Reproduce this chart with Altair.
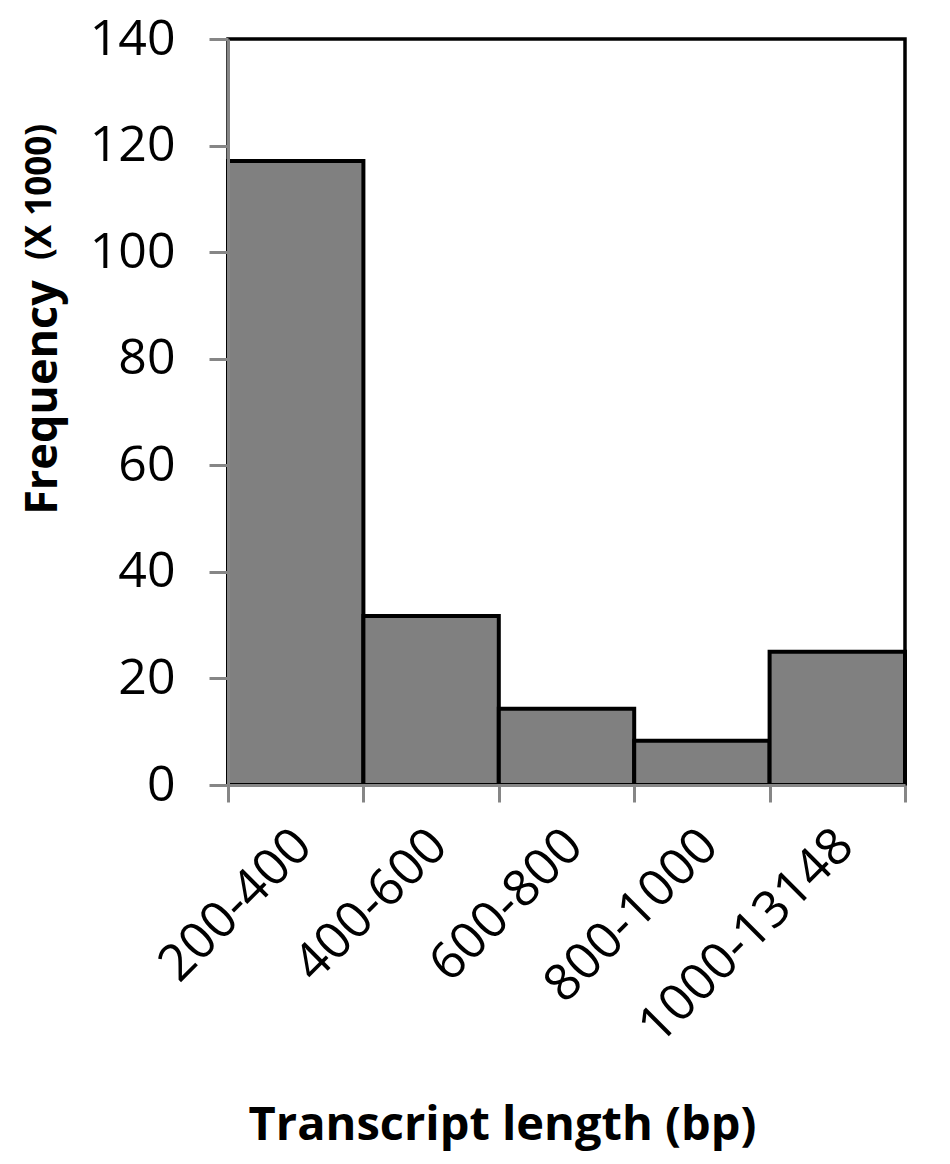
import altair as alt
import pandas as pd

categories = ["200-400", "400-600", "600-800", "800-1000", "1000-13148"]
frequency = [117.1, 31.7, 14.3, 8.3, 25.0]
y_ticks = [0, 20, 40, 60, 80, 100, 120, 140]

df = pd.DataFrame({"length": categories, "freq": frequency})

FONT = "Open Sans"
GRAY = "#868686"

bars = alt.Chart(df).mark_bar(color="#808080", stroke="black", strokeWidth=4).encode(
    x=alt.X("length:N", sort=categories,
            scale=alt.Scale(paddingInner=0, paddingOuter=0),
            axis=alt.Axis(title="Transcript length (bp)", labelAngle=-45,
                          labelFontSize=51, labelFont=FONT, labelColor="black",
                          labelPadding=18, labelOffset=-10, labelLimit=0,
                          labelAlign="right", labelBaseline="top",
                          titleFont=FONT, titleFontSize=47,
                          titleFontWeight="bold", titleColor="black",
                          titleX=274, titleY=340, titleBaseline="middle",
                          titleAlign="center",
                          domainColor=GRAY, domainWidth=3, tickColor=GRAY,
                          tickWidth=3, tickSize=17, tickBand="extent", zindex=1)),
    y=alt.Y("freq:Q", scale=alt.Scale(domain=[0, 140], nice=False),
            axis=alt.Axis(title="Frequency", values=y_ticks, labelFontSize=50,
                          labelFont=FONT, labelColor="black", labelPadding=34,
                          titleFont=FONT, titleFontSize=45, titleFontWeight="bold",
                          titleColor="black", titleX=-186, titleY=358,
                          titleAngle=270, titleBaseline="middle", titleAlign="center",
                          domainColor=GRAY, domainWidth=3, tickColor=GRAY,
                          tickWidth=3, tickSize=19, grid=False, zindex=1)),
)

sub = alt.Chart(pd.DataFrame({"t": ["(X 1000)"]})).mark_text(
    text="(X 1000)", font=FONT, fontSize=35, fontWeight="bold", angle=270,
    color="black", align="center", baseline="middle").encode(
    x=alt.value(-188), y=alt.value(153))

chart = alt.layer(bars, sub).properties(
    width=677, height=746, background="white",
    autosize=alt.AutoSizeParams(type="none"),
    padding={"left": 220, "top": 31, "right": 37, "bottom": 371},
).configure_view(stroke="black", strokeWidth=3.5)

chart.save("out.html", embed_options={"renderer": "svg", "actions": False})
